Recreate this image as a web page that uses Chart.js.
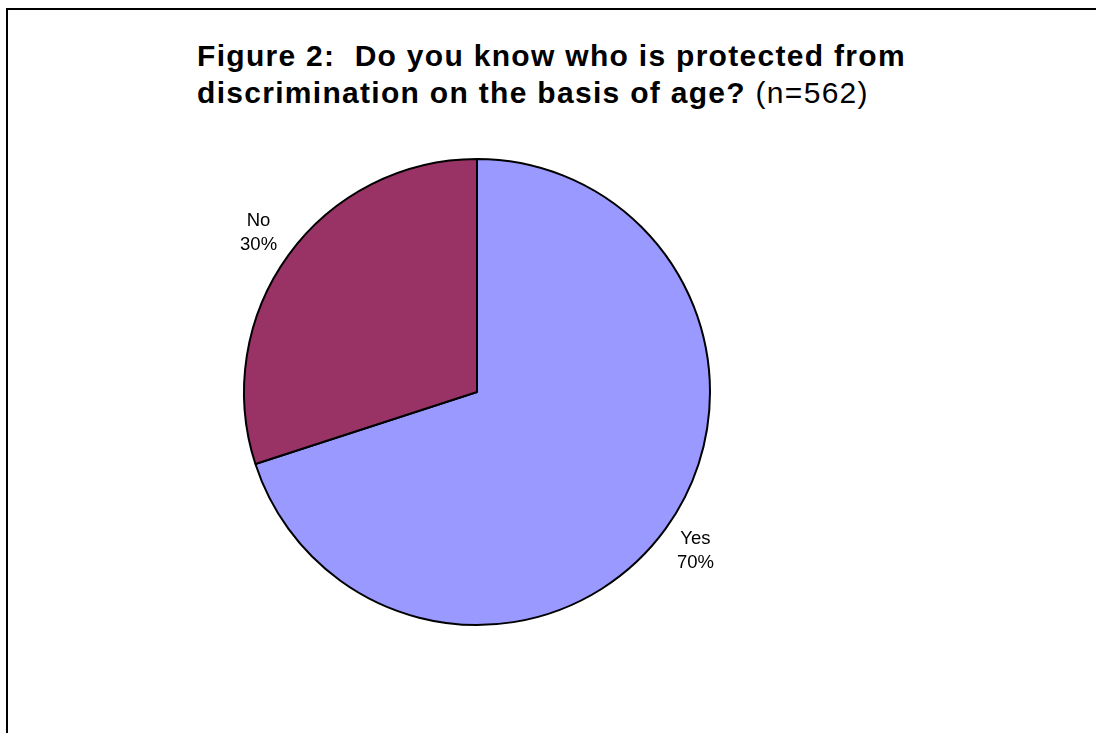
<!DOCTYPE html>
<html>
<head>
<meta charset="utf-8">
<script src="https://cdn.jsdelivr.net/npm/chart.js@4"></script>
<style>
  html, body { margin: 0; padding: 0; background: #fff; overflow: hidden; }
  #wrap { position: relative; width: 1096px; height: 733px; }
  #frame {
    position: absolute; left: 6px; top: 8px; width: 2000px; height: 2000px;
    border-left: 2px solid #000; border-top: 2px solid #000;
  }
  #title {
    position: absolute; left: 197px; top: 37px; white-space: nowrap;
    font-family: "Liberation Sans", Arial, sans-serif; font-size: 30px;
    letter-spacing: 1.3px; line-height: 37px; color: #000;
  }
  #title b { font-weight: bold; }
  canvas { position: absolute; left: 0; top: 0; }
</style>
</head>
<body>
<div id="wrap">
  <div id="frame"></div>
  <div id="title"><b>Figure 2:&nbsp; Do you know who is protected from<br>discrimination on the basis of age?</b> (n=562)</div>
  <canvas id="pieChart" width="1096" height="733"></canvas>
</div>
<script>
// data
const categories = ["Yes", "No"];
const percentages = [70, 30];
const sliceColors = ["#9999FF", "#993366"];

// draws "Category\nNN%" just outside each slice
const outsideLabels = {
  id: "outsideLabels",
  afterDatasetsDraw(chart) {
    const ctx = chart.ctx;
    const meta = chart.getDatasetMeta(0);
    ctx.save();
    ctx.font = '18.5px "Liberation Sans", Arial, sans-serif';
    ctx.fillStyle = "#000";
    ctx.textAlign = "center";
    ctx.textBaseline = "middle";
    meta.data.forEach((arc, i) => {
      const mid = (arc.startAngle + arc.endAngle) / 2;
      const dist = arc.outerRadius + 37;
      const x = arc.x + Math.cos(mid) * dist;
      const y = arc.y + Math.sin(mid) * dist;
      ctx.fillText(categories[i], x, y - 12);
      ctx.fillText(percentages[i] + "%", x, y + 12);
    });
    ctx.restore();
  },
};

document.addEventListener("DOMContentLoaded", () => {
  const canvas = document.getElementById("pieChart");
  new Chart(canvas, {
    type: "pie",
    data: {
      labels: categories,
      datasets: [
        {
          data: percentages,
          backgroundColor: sliceColors,
          borderColor: "#000",
          borderWidth: 2,
        },
      ],
    },
    options: {
      responsive: false,
      animation: false,
      layout: {
        padding: { top: 158, bottom: 107, left: 243, right: 385 },
      },
      plugins: {
        legend: { display: false },
        tooltip: { enabled: false },
      },
    },
    plugins: [outsideLabels],
  });
});
</script>
</body>
</html>
